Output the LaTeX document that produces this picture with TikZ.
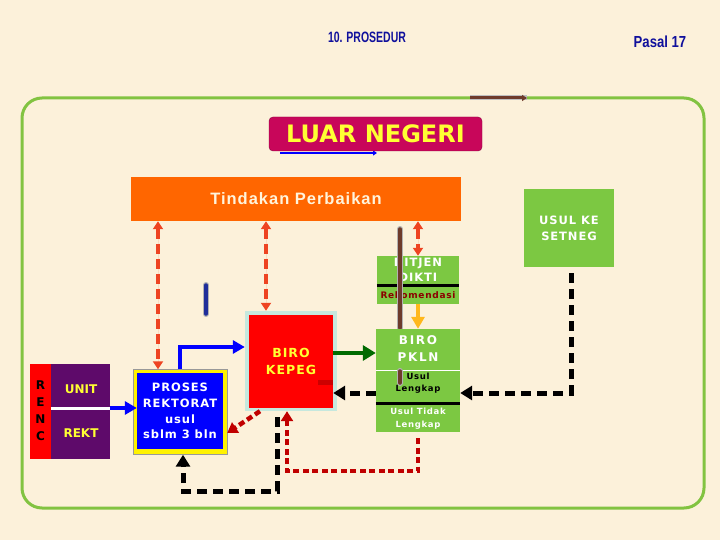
\documentclass[tikz,border=0pt]{standalone}
\usepackage{fontspec}
\usepackage{graphicx}
\setmainfont{DejaVu Sans}
\newfontfamily\arialsp[LetterSpace=6]{Liberation Sans}
\newfontfamily\titlefont{Liberation Sans}
\newfontfamily\spacedfont[LetterSpace=8]{DejaVu Sans}
\newfontfamily\widefont[LetterSpace=14]{DejaVu Sans}
\usetikzlibrary{arrows.meta,positioning,calc}
\definecolor{bgcream}{HTML}{FCF1DA}
\definecolor{titleblue}{HTML}{10109C}
\definecolor{framegreen}{HTML}{82C341}
\definecolor{boxgreen}{HTML}{7CC842}
\definecolor{luarpink}{HTML}{C8065A}
\definecolor{luaryellow}{HTML}{FFFF33}
\definecolor{perbaikan}{HTML}{FF6600}
\definecolor{perbtext}{HTML}{FFF4DC}
\definecolor{dashorange}{HTML}{EE4422}
\definecolor{kepegred}{HTML}{FF0000}
\definecolor{kepegrim}{HTML}{C6E8DE}
\definecolor{rektblue}{HTML}{0000FF}
\definecolor{rencpurple}{HTML}{5E0A6A}
\definecolor{arrowgreen}{HTML}{006A00}
\definecolor{amber}{HTML}{FFB81C}
\definecolor{dotred}{HTML}{C00000}
\definecolor{rekred}{HTML}{8B0000}
\definecolor{pipebrown}{HTML}{6E3B2B}
\definecolor{pipenavy}{HTML}{1F2E9A}

\begin{document}
\begin{tikzpicture}[x=1pt, y=-1pt,
  box/.style={inner sep=0pt, align=center},
  gbox/.style={box, fill=boxgreen},
  wlbl/.style={box, text=white, font=\spacedfont\bfseries\fontsize{11.5}{14.5}\selectfont},
  slbl/.style={box, font=\spacedfont\bfseries\fontsize{8.5}{12}\selectfont},
  ylbl/.style={box, text=luaryellow, font=\bfseries\fontsize{12}{17}\selectfont},
  arr/.style={-{Triangle[length=12pt, width=13pt]}, line width=4pt},
  dbl/.style={{Triangle[length=8pt, width=10pt]}-{Triangle[length=8pt, width=10pt]}, line width=3.5pt, draw=dashorange, fill=dashorange, dash pattern=on 10pt off 5pt},
  blk/.style={-{Triangle[length=12pt, width=14pt]}, line width=5pt, dash pattern=on 10pt off 6pt},
  dots/.style={-{Triangle[length=10pt, width=12pt]}, line width=4.5pt, draw=dotred, dash pattern=on 6pt off 3.5pt},
  pipe/.style={line width=3.5pt, line cap=round, preaction={draw=black!30, line width=6pt, line cap=round}}]
  \fill[bgcream] (0,0) rectangle (720,540);
  \useasboundingbox (0,0) rectangle (720,540);
  \node[box, text=titleblue, font=\titlefont\bfseries\fontsize{15}{18}\selectfont] (title) at (367,37) {\scalebox{0.7}[1]{10. PROSEDUR}};
  \node[box, text=titleblue, font=\titlefont\bfseries\fontsize{16}{19}\selectfont] (pasal) at (660,42) {\scalebox{0.82}[1]{Pasal 17}};
  \draw[framegreen, line width=3pt, rounded corners=20pt] (22,98) rectangle (704,508);
  \coordinate (br1) at (470,98);
  \coordinate (br2) at (527,98);
  \draw[-{Triangle[length=5pt, width=6pt]}, line width=3pt, pipebrown, preaction={draw=black!25, line width=5pt, -}] (br1) -- (br2);
  \coordinate (lb1) at (280,153);
  \coordinate (lb2) at (377,153);
  \draw[-{Triangle[length=4pt, width=5pt]}, line width=2pt, rektblue] (lb1) -- (lb2);
  \node[box, fill=luarpink, draw=luarpink!70!black, rounded corners=4pt, minimum width=213pt, minimum height=34pt, text=luaryellow, font=\bfseries\fontsize{24}{28}\selectfont] (luar) at (375.5,134) {LUAR NEGERI};
  \node[box, fill=perbaikan, minimum width=330pt, minimum height=44pt, text=perbtext, font=\arialsp\bfseries\fontsize{16.5}{20}\selectfont] (tindakan) at (296,199) {Tindakan Perbaikan};
  \node[gbox, minimum width=90pt, minimum height=78pt, font=\spacedfont\bfseries\fontsize{11.5}{16}\selectfont, text=white] (setneg) at (569,228) {USUL KE\\SETNEG};
  \node[gbox, minimum width=82pt, minimum height=48pt] (dikti) at (418,280) {};
  \node[wlbl] (diktitxt) at (418,270) {DITJEN\\DIKTI};
  \draw[line width=3pt] ([yshift=-5pt]dikti.west) -- ([yshift=-5pt]dikti.east);
  \node[slbl, text=rekred, font=\spacedfont\bfseries\fontsize{9}{11}\selectfont] (rekom) at (418,295) {Rekomendasi};
  \coordinate (bv1) at (400,229);
  \coordinate (bv2) at (400,328);
  \draw[pipe, pipebrown] (bv1) -- (bv2);
  \node[gbox, minimum width=84pt, minimum height=103pt] (pkln) at (418,380.5) {};
  \node[wlbl, font=\widefont\bfseries\fontsize{12}{17}\selectfont] (pklntxt) at (418,349) {BIRO\\PKLN};
  \draw[white, line width=1pt] ([yshift=10.5pt]pkln.west) -- ([yshift=10.5pt]pkln.east);
  \draw[line width=3pt] ([yshift=-22.5pt]pkln.west) -- ([yshift=-22.5pt]pkln.east);
  \coordinate (bv3) at (400,371);
  \coordinate (bv4) at (400,383);
  \draw[pipe, pipebrown] (bv3) -- (bv4);
  \node[slbl, text=black] (lengkap) at (418,383) {Usul\\Lengkap};
  \node[slbl, text=white, font=\spacedfont\bfseries\fontsize{8.5}{13}\selectfont] (tidak) at (418,418.5) {Usul Tidak\\Lengkap};
  \coordinate (bl1) at (206,285);
  \coordinate (bl2) at (206,314);
  \draw[pipe, pipenavy] (bl1) -- (bl2);
  \node[box, fill=kepegrim, minimum width=92pt, minimum height=100pt] (kepegout) at (291,361) {};
  \node[ylbl, fill=kepegred, minimum width=84pt, minimum height=93pt, font=\spacedfont\bfseries\fontsize{12.5}{17}\selectfont] (kepeg) at (291,361.5) {BIRO\\KEPEG};
  \coordinate (sm1) at (318,382);
  \coordinate (sm2) at (333,382);
  \draw[line width=5pt, dotred, opacity=0.8] (sm1) -- (sm2);
  \node[box, fill=yellow, draw=black!40, minimum width=94pt, minimum height=85pt] (procout) at (180,412) {};
  \node[box, fill=rektblue, minimum width=86pt, minimum height=76pt, text=white, font=\spacedfont\bfseries\fontsize{11.5}{15.7}\selectfont] (proses) at (180,411) {PROSES\\REKTORAT\\usul\\sblm 3 bln};
  \node[box, fill=kepegred, minimum width=21pt, minimum height=95pt, font=\bfseries\fontsize{12}{17}\selectfont] (renc) at (40.5,411) {R\\E\\N\\C};
  \node[box, fill=rencpurple, minimum width=59pt, minimum height=95pt] (unit) at (80.5,411) {};
  \draw[white, line width=3pt] ([yshift=3pt]unit.west) -- ([yshift=3pt]unit.east);
  \node[ylbl] (unittxt) at (81,389) {UNIT};
  \node[ylbl] (rekttxt) at (81,433) {REKT};
  \draw[arr, rektblue] ([yshift=3pt]unit.east) -- ([yshift=3pt]unit.east -| proses.west);
  \draw[arr, rektblue] (procout.north) |- ([yshift=14pt]kepegout.west);
  \draw[arr, arrowgreen, -{Triangle[length=13pt, width=15pt]}] ([yshift=8.5pt]kepeg.east) -- ([yshift=8.5pt]kepeg.east -| pkln.west);
  \draw[arr, amber] (dikti.south) -- (pkln.north);
  \draw[dbl] ([xshift=-22pt]procout.north |- tindakan.south) -- ([xshift=-22pt]procout.north);
  \draw[dbl] ([xshift=-25pt]kepegout.north |- tindakan.south) -- ([xshift=-25pt]kepegout.north);
  \draw[dbl] (dikti.north |- tindakan.south) -- (dikti.north);
  \draw[blk, shorten <=6pt] ([xshift=2pt]setneg.south) |- ([yshift=-12.5pt]pkln.east);
  \draw[blk] ([yshift=-12.5pt]pkln.west) -- ([yshift=-12.5pt]pkln.west -| kepeg.east);
  \draw[blk] ([xshift=-14pt, yshift=-6pt]kepegout.south) -- ++(0,74) -| ([xshift=3pt]procout.south);
  \draw[dots] ([yshift=-6pt]pkln.south) -- ++(0,33) -| ([xshift=-4pt]kepegout.south);
  \draw[dots] ([xshift=-31pt]kepegout.south) -- ([yshift=-21pt]procout.east);
\end{tikzpicture}
\end{document}
